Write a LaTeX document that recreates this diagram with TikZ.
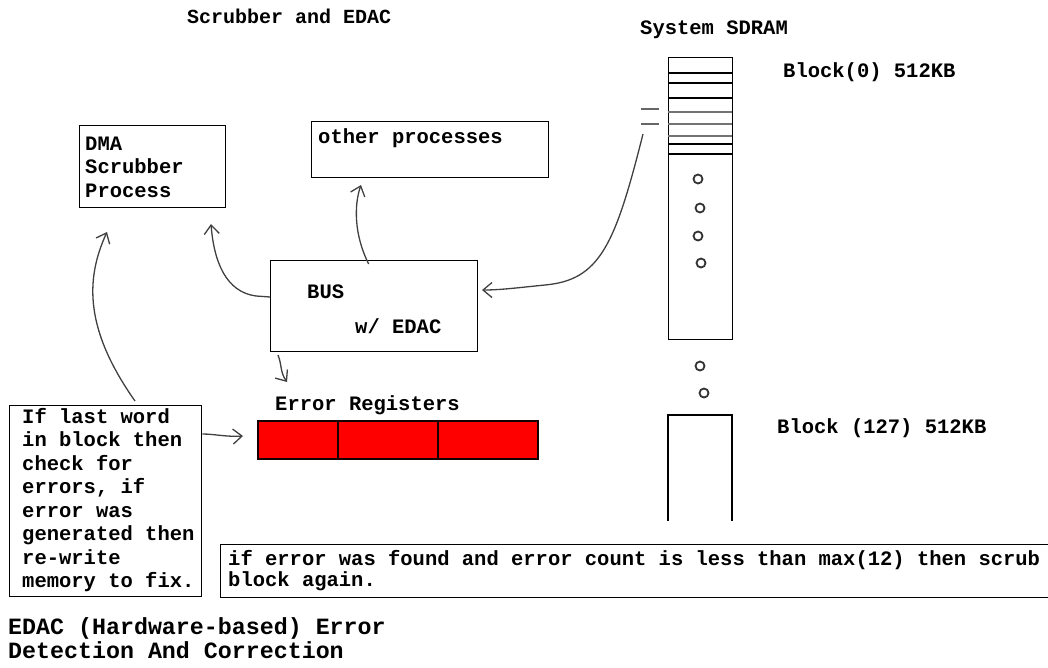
\documentclass[tikz,border=0pt]{standalone}
\usepackage{fontspec}
\setmainfont{Liberation Mono}
\usetikzlibrary{arrows.meta}
\newcommand\fixsp{\spaceskip=0pt\xspaceskip=0pt\relax}
\begin{document}
\begin{tikzpicture}[x=1pt,y=-1pt,
  box/.style={draw=black, line width=1.4pt, inner sep=0pt, anchor=north west},
  txt/.style={anchor=base west, inner sep=0pt, font=\fontsize{20.5}{23.5}\selectfont\bfseries},
  mtxt/.style={txt, align=left, text width=#1},
  conn/.style={draw=black!75, line width=1.3pt, -{Straight Barb[length=9pt,width=15pt]}},
  dot/.style={draw=black!80, line width=1.8pt},
  reg/.style={draw=black!90!red, fill=red, line width=1.5pt}]
\useasboundingbox (0,0) rectangle (1048,667);
\clip (0,0) rectangle (1048,667);
% titles
\node[txt, font=\fontsize{20}{23}\selectfont\bfseries] (title) at (187,23) {Scrubber and EDAC};
\node[txt] (sdramlbl) at (640,34) {System SDRAM};
\node[txt] (blk0) at (783,77) {Block(0) 512KB};
\node[txt] (blk127) at (777,433) {Block (127) 512KB};
% DMA box
\node[box, minimum width=146pt, minimum height=82pt] (dma) at (79,125) {};
\node[mtxt=140pt] (dmatxt) at (85,150) {\fixsp DMA\\Scrubber\\Process};
% other processes
\node[box, minimum width=237pt, minimum height=56pt] (other) at (311,121) {};
\node[txt] (othertxt) at (318,143) {other processes};
% BUS
\node[box, minimum width=207pt, minimum height=91pt] (bus) at (270,260) {};
\node[txt] (bustxt) at (307,298) {BUS};
\node[txt] (edactxt) at (355,333) {w/ EDAC};
% left note
\node[box, minimum width=192pt, minimum height=191pt] (note) at (9,405) {};
\node[mtxt=185pt] (notetxt) at (22,423) {\fixsp If last word\\in block then\\check for\\errors, if\\error was\\generated then\\re-write\\memory to fix.};
% error registers
\node[txt] (errlbl) at (275,410) {Error Registers};
\node[reg, anchor=north west, minimum width=80pt, minimum height=38pt, inner sep=0pt] (r1) at (257,420) {};
\node[reg, anchor=north west, minimum width=100pt, minimum height=38pt, inner sep=0pt] (r2) at (337,420) {};
\node[reg, anchor=north west, minimum width=100pt, minimum height=38pt, inner sep=0pt] (r3) at (437,420) {};
% bottom note
\node[box, minimum width=850pt, minimum height=53pt] (again) at (220,544) {};
\node[txt, align=left, text width=840pt, font=\fontsize{20.5}{21}\selectfont\bfseries] (againtxt) at (228,565) {\fixsp if error was found and error count is less than max(12) then scrub\\block again.};
% bottom title
\node[txt, align=left, text width=500pt, font=\fontsize{23.3}{24}\selectfont\bfseries] (footer) at (8,634) {\fixsp EDAC (Hardware-based) Error\\Detection And Correction};
% SDRAM column
\node[box, minimum width=64pt, minimum height=282pt] (col) at (668,57) {};
\foreach \yy in {73,83,98,144,154} \draw[line width=1.3pt] (668,\yy) -- (732,\yy);
\foreach \yy in {112,124,136} \draw[line width=1.8pt, black!55] (668,\yy) -- (732,\yy);
\draw[line width=1.4pt] (668,521) -- (668,415) -- (732,415) -- (732,521);
\foreach \xx/\yy in {698/179,700/208,698/236,701/263,700/366,704/393}
  \draw[dot] (\xx,\yy) circle (4.5pt);
\draw[line width=1.6pt, black!60] (641,109) -- (659,109);
\draw[line width=1.6pt, black!60] (641,124) -- (659,124);
% connectors
\coordinate (sdstart) at (643,134);
\coordinate (busR) at (482,290);
\coordinate (otherB) at (361,185);
\coordinate (dmaR) at (211,224);
\coordinate (dmaL) at (107,232);
\coordinate (errtip) at (287,382);
\coordinate (regtip) at (243,436);
\draw[conn] (sdstart) .. controls (615,245) and (600,280) .. (545,285) .. controls (515,288) and (500,290) .. (busR);
\draw[conn] ([xshift=-5.5pt,yshift=-4pt]bus.north) .. controls (354,235) and (354,205) .. (otherB);
\draw[conn] (bus.west |- 0,297) -- (256,296) .. controls (226,292) and (214,262) .. (dmaR);
\draw[conn] (135,401) .. controls (85,330) and (85,280) .. (dmaL);
\draw[conn] (278,355) .. controls (282,365) and (280,372) .. (errtip);
\draw[conn] (note.east |- 0,434) .. controls (215,434) and (225,437) .. (regtip);
\end{tikzpicture}
\end{document}
